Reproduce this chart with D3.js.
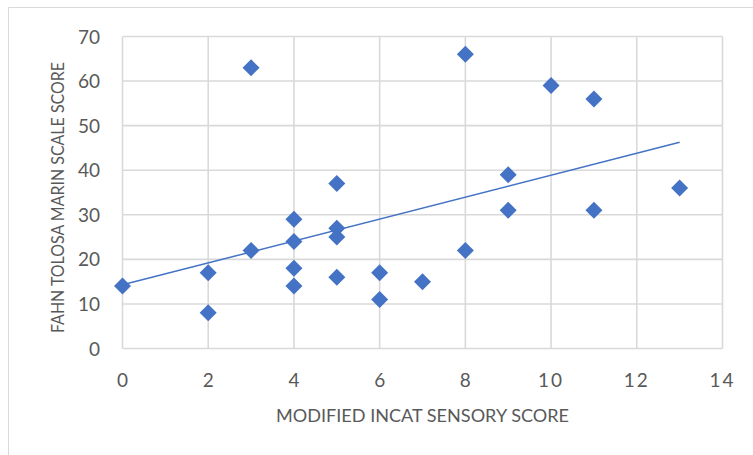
<!DOCTYPE html>
<html><head><meta charset="utf-8">
<script src="https://cdn.jsdelivr.net/npm/d3@7"></script>
<style>body{margin:0;background:#fff}svg{display:block}text{font-family:Lato,"Open Sans",sans-serif;fill:#595959}</style>
</head><body><svg id="c" width="753" height="455"></svg>
<script>
const xValues = [0,2,2,3,3,4,4,4,4,5,5,5,5,6,6,7,8,8,9,9,10,11,11,13];
const yValues = [14,17,8,63,22,29,24,18,14,37,27,25,16,17,11,15,66,22,39,31,59,56,31,36];
const xTicks = [0,2,4,6,8,10,12,14];
const yTicks = [0,10,20,30,40,50,60,70];
const xTitle = "MODIFIED INCAT SENSORY SCORE";
const yTitle = "FAHN TOLOSA MARIN SCALE SCORE";

const svg = d3.select("#c");
const L=122.5, R=722.5, T=36.5, B=348.5;
const x = d3.scaleLinear().domain([0,14]).range([L,R]);
const y = d3.scaleLinear().domain([0,70]).range([B,T]);

svg.append("path").attr("d","M8.5,460V7.5H760")
  .attr("fill","none").attr("stroke","#d9d9d9").attr("stroke-width",1);

const g = svg.append("g");
g.selectAll(".vg").data(xTicks).join("line")
  .attr("x1",d=>x(d)).attr("x2",d=>x(d)).attr("y1",T).attr("y2",B)
  .attr("stroke","#d9d9d9").attr("stroke-width",1.6);
g.selectAll(".hg").data(yTicks).join("line")
  .attr("y1",d=>y(d)).attr("y2",d=>y(d)).attr("x1",L).attr("x2",R)
  .attr("stroke","#d9d9d9").attr("stroke-width",1.6);

g.selectAll(".xt").data(xTicks).join("text")
  .attr("x",d=>x(d)).attr("y",387).attr("text-anchor","middle")
  .attr("font-size",19).attr("letter-spacing",d=>d>=10?"2px":"0px").text(d=>d);
g.selectAll(".yt").data(yTicks).join("text")
  .attr("x",100).attr("y",d=>y(d)+7).attr("text-anchor","end")
  .attr("font-size",19).text(d=>d);

svg.append("text").attr("x",422.5).attr("y",422).attr("text-anchor","middle")
  .attr("font-size",18).attr("textLength",293).attr("lengthAdjust","spacingAndGlyphs").text(xTitle);
svg.append("text").attr("transform","translate(64,197.5) rotate(-90)").attr("text-anchor","middle")
  .attr("font-size",18).attr("textLength",271).attr("lengthAdjust","spacingAndGlyphs").text(yTitle);

// linear regression trendline
const n=xValues.length, mx=d3.mean(xValues), my=d3.mean(yValues);
let sxy=0,sxx=0; for(let i=0;i<n;i++){sxy+=(xValues[i]-mx)*(yValues[i]-my);sxx+=(xValues[i]-mx)**2;}
const slope=sxy/sxx, icpt=my-slope*mx;
const x0=d3.min(xValues), x1=d3.max(xValues);
svg.append("line").attr("x1",x(x0)).attr("y1",y(icpt+slope*x0)).attr("x2",x(x1)).attr("y2",y(icpt+slope*x1))
  .attr("stroke","#4472C4").attr("stroke-width",1.5);

const s=8.5;
svg.selectAll(".pt").data(xValues.map((v,i)=>[v,yValues[i]])).join("path")
  .attr("d",d=>`M${x(d[0])},${y(d[1])-s}L${x(d[0])+s},${y(d[1])}L${x(d[0])},${y(d[1])+s}L${x(d[0])-s},${y(d[1])}Z`)
  .attr("fill","#4472C4");
</script></body></html>
